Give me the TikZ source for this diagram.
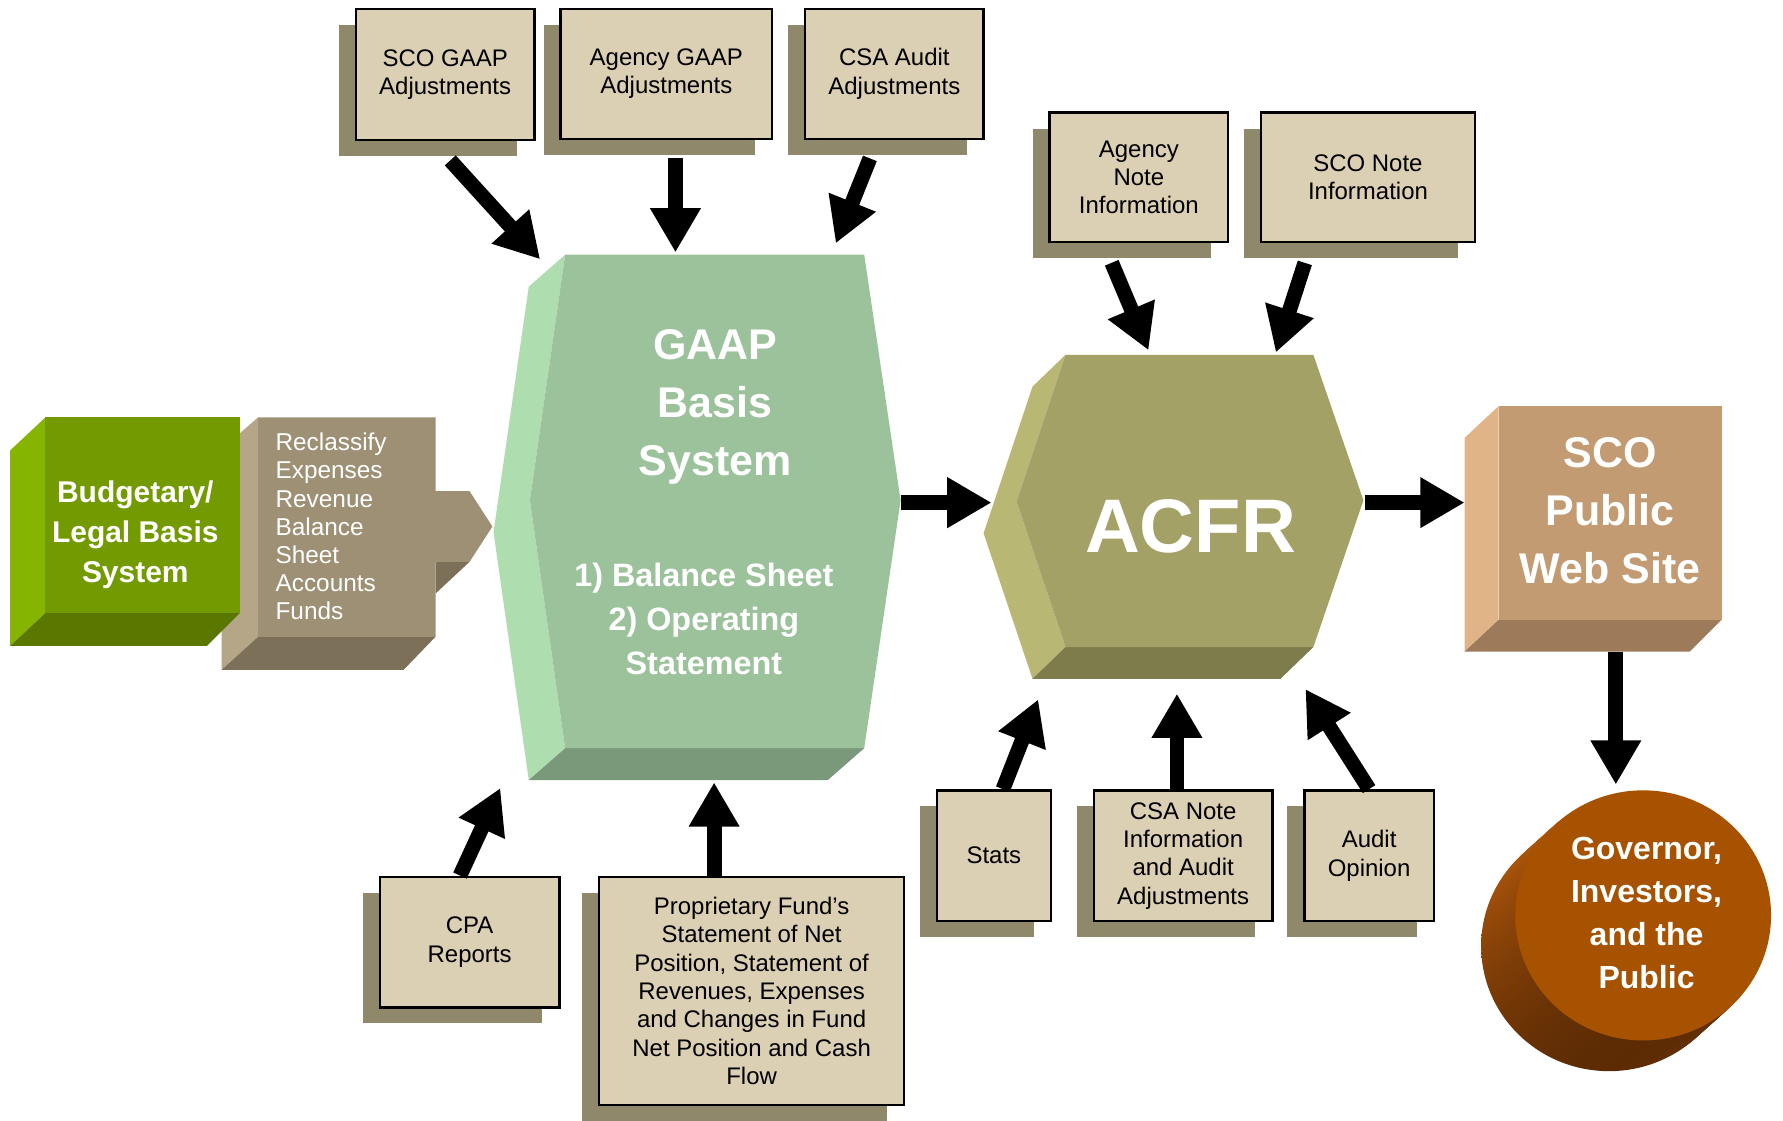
\documentclass[tikz,border=0pt]{standalone}
\usepackage{fontspec}
\setmainfont{Liberation Sans}
\usetikzlibrary{arrows.meta,shadows,calc}

\definecolor{boxfill}{RGB}{219,207,180}
\definecolor{boxshadow}{RGB}{143,136,107}
\definecolor{budfront}{RGB}{115,154,0}
\definecolor{budleft}{RGB}{133,181,0}
\definecolor{budbottom}{RGB}{90,120,0}
\definecolor{recfront}{RGB}{158,144,116}
\definecolor{recleft}{RGB}{181,166,135}
\definecolor{recbottom}{RGB}{125,112,89}
\definecolor{gaapfront}{RGB}{155,194,154}
\definecolor{gaapleft}{RGB}{174,222,176}
\definecolor{gaapbottom}{RGB}{122,152,122}
\definecolor{acfrfront}{RGB}{163,161,102}
\definecolor{acfrleft}{RGB}{184,184,116}
\definecolor{acfrbottom}{RGB}{127,124,75}
\definecolor{webfront}{RGB}{194,155,114}
\definecolor{webleft}{RGB}{225,180,135}
\definecolor{webbottom}{RGB}{156,122,90}
\definecolor{govtop}{RGB}{166,82,0}
\definecolor{govlight}{RGB}{188,94,12}
\definecolor{govdark}{RGB}{92,43,4}

\tikzset{
	infobox/.style={draw, line width=1.2pt, fill=boxfill, align=center, inner sep=2pt,
		font=\fontsize{12}{14.2}\selectfont,
		drop shadow={shadow xshift=-0.3cm, shadow yshift=-0.28cm, fill=boxshadow, opacity=1}},
	flowarrow/.style={line width=7.4pt, -{Triangle[width=0.84cm,length=0.78cm]}},
	blocktext/.style={text=white, align=center, inner sep=0pt},
}

\begin{document}
\begin{tikzpicture}[x=0.02cm,y=-0.02cm]
	\useasboundingbox (0,0) rectangle (1568,985);

	% Reclassify block (behind the budgetary block)
	\fill[recleft] (195,395) -- (227,367) -- (227,560) -- (195,589) -- cycle;
	\fill[recbottom] (195,589) -- (227,560) -- (383,560) -- (355,589) -- cycle;
	\fill[recbottom] (383,494) -- (413,494) -- (383,522) -- cycle;
	\fill[recfront] (227,367) -- (383,367) -- (383,432) -- (413,432) -- (433,463)
		-- (413,494) -- (383,494) -- (383,560) -- (227,560) -- cycle;
	\node[blocktext, anchor=west, align=left, font=\fontsize{12.2}{14.1}\selectfont]
		(reclass) at (242,463) {Reclassify\\Expenses\\Revenue\\Balance\\Sheet\\Accounts\\Funds};

	% Budgetary block
	\fill[budleft] (9,396) -- (40,367) -- (40,539) -- (9,568) -- cycle;
	\fill[budbottom] (9,568) -- (40,539) -- (211,539) -- (182,568) -- cycle;
	\fill[budfront] (40,367) rectangle (211,539);
	\node[blocktext, font=\bfseries\fontsize{15}{20}\selectfont]
		(budget) at (119,470) {Budgetary/\\Legal Basis\\System};

	% GAAP hexagon
	\fill[gaapleft] (497,224) -- (465,252) -- (434,468) -- (465,686) -- (497,658) -- (466,440) -- cycle;
	\fill[gaapbottom] (497,658) -- (760,658) -- (728,686) -- (465,686) -- cycle;
	\fill[gaapfront] (497,224) -- (760,224) -- (792,440) -- (760,658) -- (497,658) -- (466,440) -- cycle;
	\node[blocktext, font=\bfseries\fontsize{21.5}{29}\selectfont]
		(gaap) at (629,358) {GAAP\\Basis\\System};
	\node[blocktext, font=\bfseries\fontsize{16.2}{22}\selectfont]
		(gaapsub) at (619,544) {1) Balance Sheet\\2) Operating\\Statement};

	% ACFR hexagon
	\fill[acfrleft] (937,312) -- (908,340) -- (865,469) -- (908,597) -- (937,569) -- (894,441) -- cycle;
	\fill[acfrbottom] (937,569) -- (1155,569) -- (1126,597) -- (908,597) -- cycle;
	\fill[acfrfront] (937,312) -- (1155,312) -- (1199,440) -- (1155,569) -- (937,569) -- (894,441) -- cycle;
	\node[blocktext, font=\bfseries\fontsize{38}{40}\selectfont] (acfr) at (1047,463) {ACFR};

	% Web site block
	\fill[webleft] (1288,385) -- (1318,357) -- (1318,545) -- (1288,573) -- cycle;
	\fill[webbottom] (1288,573) -- (1318,545) -- (1514,545) -- (1486,573) -- cycle;
	\fill[webfront] (1318,357) rectangle (1514,545);
	\node[blocktext, font=\bfseries\fontsize{21.5}{29}\selectfont]
		(web) at (1416,449) {SCO\\Public\\Web Site};

	% Readers disc
	\coordinate (govA) at (1445,805);
	\coordinate (govB) at (1415,832);
	\foreach \k in {0,...,14}
		\shade[top color=govlight, bottom color=govdark] ($(govB)!\k/15!(govA)$)
			ellipse [x radius=2.25cm, y radius=2.2cm];
	\fill[govtop] (govA) ellipse [x radius=2.25cm, y radius=2.2cm];
	\node[blocktext, font=\bfseries\fontsize{16}{21.5}\selectfont]
		(gov) at (1448,803) {Governor,\\Investors,\\and the\\Public};

	% Input boxes
	\node[infobox, minimum width=3.14cm, minimum height=2.3cm] (scogaap) at (391.5,65.5) {SCO GAAP\\Adjustments};
	\node[infobox, minimum width=3.72cm, minimum height=2.28cm] (agencygaap) at (586,65) {Agency GAAP\\Adjustments};
	\node[infobox, minimum width=3.14cm, minimum height=2.28cm] (csaaudit) at (786.5,65) {CSA Audit\\Adjustments};
	\node[infobox, minimum width=3.14cm, minimum height=2.28cm] (agencynote) at (1001.5,156) {Agency\\Note\\Information};
	\node[infobox, minimum width=3.76cm, minimum height=2.28cm] (sconote) at (1203,156) {SCO Note\\Information};
	\node[infobox, minimum width=2cm, minimum height=2.3cm] (stats) at (874,752.5) {Stats};
	\node[infobox, minimum width=3.14cm, minimum height=2.3cm] (csanote) at (1040.5,752.5) {CSA Note\\Information\\and Audit\\Adjustments};
	\node[infobox, minimum width=2.28cm, minimum height=2.3cm] (auditop) at (1204,752.5) {Audit\\Opinion};
	\node[infobox, minimum width=3.16cm, minimum height=2.3cm] (cpa) at (413,828.5) {CPA\\Reports};
	\node[infobox, minimum width=5.36cm, minimum height=4.02cm] (propfund) at (661,871.5)
		{Proprietary Fund’s\\Statement of Net\\Position, Statement of\\Revenues, Expenses\\and Changes in Fund\\Net Position and Cash\\Flow};

	% Arrow ends on the blocks
	\coordinate (gaapNW) at (475,228);
	\coordinate (gaapN) at (594,222);
	\coordinate (gaapNE) at (735,214);
	\coordinate (gaapE) at (792,442);
	\coordinate (gaapS) at (628,688);
	\coordinate (gaapSW) at (440,693);
	\coordinate (acfrNW) at (1010,308);
	\coordinate (acfrNE) at (1122,310);
	\coordinate (acfrW) at (872,442);
	\coordinate (acfrE) at (1200,442);
	\coordinate (acfrSW) at (913,615);
	\coordinate (acfrS) at (1035,610);
	\coordinate (acfrSE) at (1148,606);
	\coordinate (webW) at (1288,442);
	\coordinate (webS) at (1421,573);
	\coordinate (govN) at (1421,690);

	% Arrows
	\draw[flowarrow, shorten <=0.46cm] ([xshift=-0.22cm]scogaap.south) -- (gaapNW);
	\draw[flowarrow, shorten <=0.32cm] (agencygaap.south -| gaapN) -- (gaapN);
	\draw[flowarrow, shorten <=0.35cm] ([xshift=-0.3cm]csaaudit.south) -- (gaapNE);
	\draw[flowarrow, shorten <=0.37cm] ([xshift=-0.62cm]agencynote.south) -- (acfrNW);
	\draw[flowarrow, shorten <=0.36cm] ([xshift=-1cm]sconote.south) -- (acfrNE);
	\draw[flowarrow] ([xshift=0.16cm]stats.north) -- (acfrSW);
	\draw[flowarrow] (csanote.north -| acfrS) -- (acfrS);
	\draw[flowarrow] (auditop.north) -- (acfrSE);
	\draw[flowarrow] ([xshift=-0.17cm]cpa.north) -- (gaapSW);
	\draw[flowarrow] (propfund.north -| gaapS) -- (gaapS);
	\draw[flowarrow] (gaapE) -- (acfrW);
	\draw[flowarrow] (acfrE) -- (webW);
	\draw[flowarrow] (webS) -- (govN);
\end{tikzpicture}
\end{document}
